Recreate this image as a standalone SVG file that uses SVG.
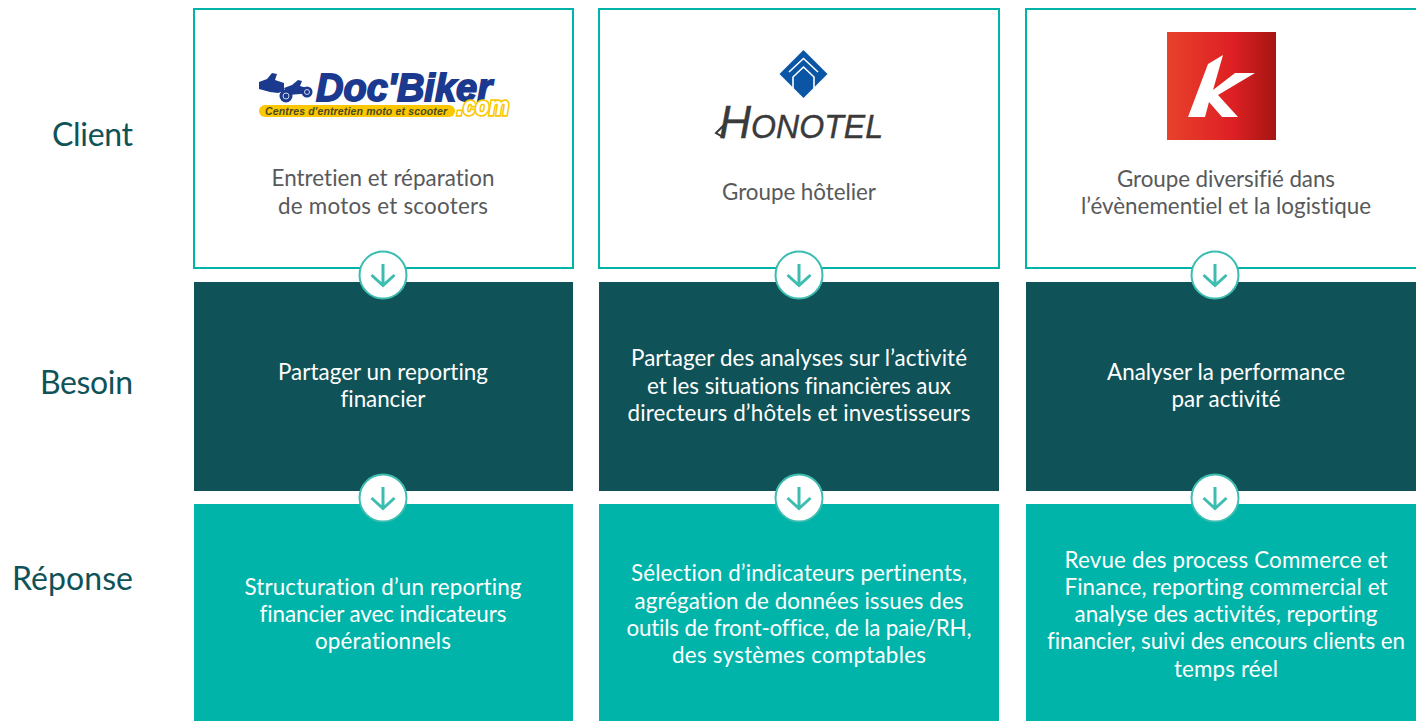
<svg xmlns="http://www.w3.org/2000/svg" width="1416" height="721" viewBox="0 0 1416 721">
<style>
text{font-family:"Lato","Noto Sans",sans-serif;text-anchor:middle;font-variant-ligatures:none}
.logo{font-family:"Liberation Sans",Arial,sans-serif;font-style:italic;text-anchor:start}
.lab{font-size:32px;fill:#0f5257;text-anchor:end;transform:translateY(.8px)}
.d{font-size:22.400px;fill:#58595b;transform:translateY(.7px)}
.w{font-size:22.400px;fill:#fff;transform:translateY(.7px)}
.client{fill:#fff;stroke:#00b4aa;stroke-width:2}
.need{fill:#0f5257}
.resp{fill:#00b4aa}
.circ{fill:#fff;stroke:#3dbdb1;stroke-width:2}
.arr{fill:none;stroke:#3dbdb1;stroke-width:3}
</style>
<defs>
<linearGradient id="kg" x1="0" x2="1" y1="0" y2="0"><stop offset="0" stop-color="#e8412c"/><stop offset=".6" stop-color="#de2024"/><stop offset="1" stop-color="#a51512"/></linearGradient>
<g id="down"><circle class="circ" r="23.500"/><path class="arr" d="M0-11V10.500M-11.500 0L0 10.500L11.500 0"/></g>
</defs>
<rect width="1416" height="721" fill="#fff"/>
<g id="labels">
<text class="lab" x="133" y="145" textLength="81">Client</text>
<text class="lab" x="133" y="393" textLength="93">Besoin</text>
<text class="lab" x="133" y="589" textLength="121">Réponse</text>
</g>
<g id="col1-client">
<rect class="client" x="194" y="9" width="379" height="259"/>
<g id="docbiker-logo">
<rect x="259" y="105" width="196" height="12" rx="6" fill="#fbc700"/>
<g fill="#1b3a8f">
<path d="M259 82l8-3 5-6 5 1-2 6 9 3 0 8-6 2-8-1-11-3z"/>
<path d="M284 88l8-3 6-5 4 1-2 5 7 2 4 4-10 2-14 1z"/>
<circle cx="286" cy="96" r="6.500"/><circle cx="307" cy="92" r="5.500"/>
</g>
<g fill="none" stroke="#cfd6ea" stroke-width="1"><circle cx="286" cy="96" r="3"/><circle cx="307" cy="92" r="2.500"/></g>
<text class="logo" x="316" y="101" font-size="39" font-weight="700" fill="#1b3a8f" stroke="#1b3a8f" stroke-width="1.800" textLength="176" lengthAdjust="spacingAndGlyphs">Doc'Biker</text>
<text class="logo" x="265" y="114.500" font-size="10.500" font-weight="700" fill="#4a4a20" textLength="182" lengthAdjust="spacing">Centres d'entretien moto et scooter</text>
<text class="logo" x="457" y="115" font-size="25" font-weight="700" fill="#fff" stroke="#fbc700" stroke-width="3.500" paint-order="stroke" textLength="52" lengthAdjust="spacingAndGlyphs">.com</text>
</g>
<text class="d" x="383" y="185" textLength="223">Entretien et réparation</text>
<text class="d" x="383" y="213" textLength="210">de motos et scooters</text>
</g>
<g id="col2-client">
<rect class="client" x="599" y="9" width="400" height="259"/>
<g id="honotel-logo">
<path d="M803.500 50L827.500 74 803.500 98 779.500 74z" fill="#0a56a5"/>
<path d="M789 72L803.500 58.500 818 72M793 90V77L803.500 67 814 77V90" fill="none" stroke="#fff" stroke-width="1.600"/>
<path d="M716 133L723 126 723 137z" fill="none" stroke="#3a3a3a" stroke-width="2"/>
<text class="logo" x="719" y="138" font-size="34" fill="#3a3a3a" stroke="#3a3a3a" stroke-width=".4" textLength="164" lengthAdjust="spacingAndGlyphs"><tspan font-size="47">H</tspan>ONOTEL</text>
</g>
<text class="d" x="799" y="199" textLength="154">Groupe hôtelier</text>
</g>
<g id="col3-client">
<rect class="client" x="1026" y="9" width="392" height="259"/>
<g id="k-logo">
<rect x="1167" y="32" width="109" height="108" fill="url(#kg)"/>
<path d="M1223 55L1208 64 1188 117H1205L1209 102 1222 117H1238L1218 95 1255 73H1235L1213 90z" fill="#fff"/>
</g>
<text class="d" x="1226" y="186" textLength="218">Groupe diversifié dans</text>
<text class="d" x="1226" y="213" textLength="290">l’évènementiel et la logistique</text>
</g>
<g id="col1-need">
<rect class="need" x="194" y="282" width="379" height="209"/>
<text class="w" x="383" y="379" textLength="210">Partager un reporting</text>
<text class="w" x="383" y="406" textLength="85">financier</text>
</g>
<g id="col2-need">
<rect class="need" x="599" y="282" width="400" height="209"/>
<text class="w" x="799" y="365" textLength="336">Partager des analyses sur l’activité</text>
<text class="w" x="799" y="393" textLength="304">et les situations financières aux</text>
<text class="w" x="799" y="420" textLength="343">directeurs d’hôtels et investisseurs</text>
</g>
<g id="col3-need">
<rect class="need" x="1026" y="282" width="390" height="209"/>
<text class="w" x="1226" y="379" textLength="238">Analyser la performance</text>
<text class="w" x="1226" y="406" textLength="109">par activité</text>
</g>
<g id="col1-resp">
<rect class="resp" x="194" y="504" width="379" height="217"/>
<text class="w" x="383" y="594" textLength="277">Structuration d’un reporting</text>
<text class="w" x="383" y="621" textLength="247">financier avec indicateurs</text>
<text class="w" x="383" y="648" textLength="136">opérationnels</text>
</g>
<g id="col2-resp">
<rect class="resp" x="599" y="504" width="400" height="217"/>
<text class="w" x="799" y="580" textLength="336">Sélection d’indicateurs pertinents,</text>
<text class="w" x="799" y="608" textLength="329">agrégation de données issues des</text>
<text class="w" x="799" y="635" textLength="345">outils de front-office, de la paie/RH,</text>
<text class="w" x="799" y="662" textLength="254">des systèmes comptables</text>
</g>
<g id="col3-resp">
<rect class="resp" x="1026" y="504" width="390" height="217"/>
<text class="w" x="1226" y="567" textLength="323">Revue des process Commerce et</text>
<text class="w" x="1226" y="594" textLength="323">Finance, reporting commercial et</text>
<text class="w" x="1226" y="621" textLength="303">analyse des activités, reporting</text>
<text class="w" x="1226" y="648" textLength="358">financier, suivi des encours clients en</text>
<text class="w" x="1226" y="676" textLength="104">temps réel</text>
</g>
<g id="connectors">
<use href="#down" x="383" y="275"/>
<use href="#down" x="799" y="275"/>
<use href="#down" x="1215" y="275"/>
<use href="#down" x="383" y="498"/>
<use href="#down" x="799" y="498"/>
<use href="#down" x="1215" y="498"/>
</g>
</svg>
